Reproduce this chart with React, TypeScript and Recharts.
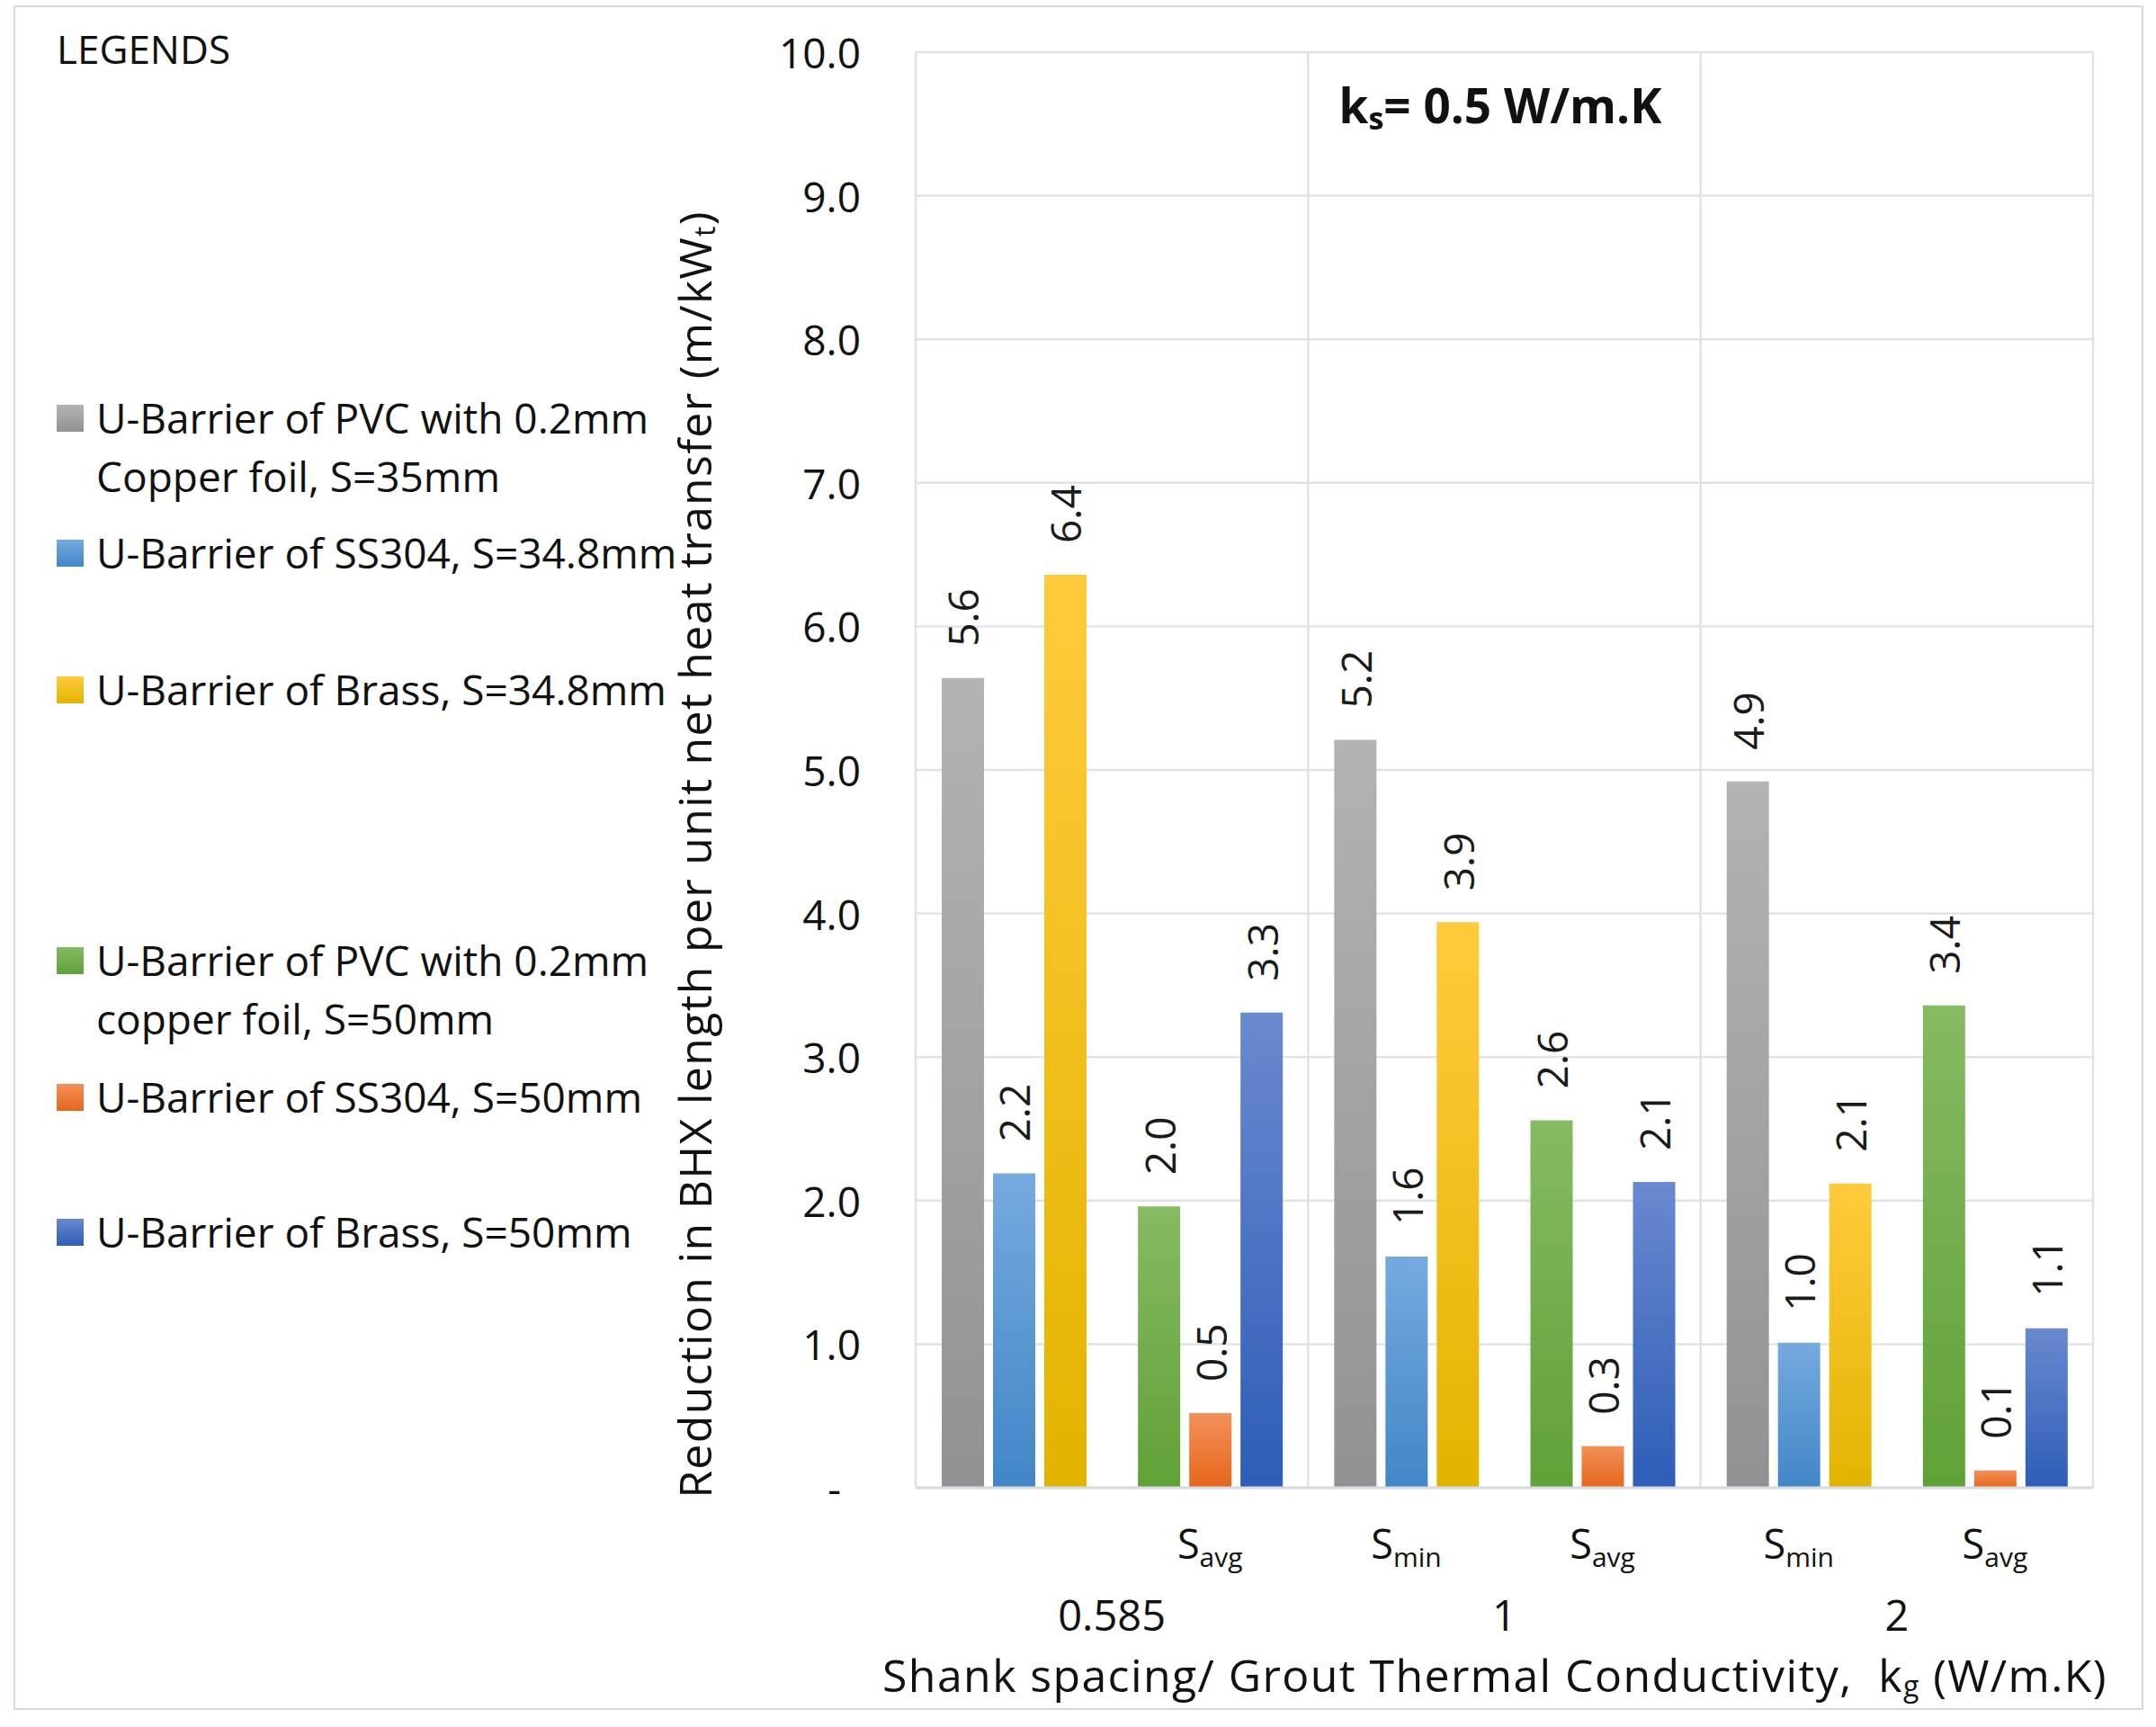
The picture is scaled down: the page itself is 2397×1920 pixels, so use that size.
import React from 'react';
import { BarChart, Bar, XAxis, YAxis, CartesianGrid, ReferenceLine, LabelList } from 'recharts';

// grout conductivity groups and the shank spacing inside each group
const groupLabels = ['0.585', '1', '2'];
const spacingSubs = ['', 'avg', 'min', 'avg', 'min', 'avg'];
const yTicks = [0, 1, 2, 3, 4, 5, 6, 7, 8, 9, 10];

// reduction in BHX length per unit net heat transfer (m/kWt)
const pvcCopper35 = [5.64, null, 5.21, null, 4.92, null];
const ss304_348 = [2.19, null, 1.61, null, 1.01, null];
const brass348 = [6.36, null, 3.94, null, 2.12, null];
const pvcCopper50 = [null, 1.96, null, 2.56, null, 3.36];
const ss304_50 = [null, 0.52, null, 0.29, null, 0.12];
const brass50 = [null, 3.31, null, 2.13, null, 1.11];

const seriesNames = [
  'U-Barrier of PVC with 0.2mm\nCopper foil, S=35mm',
  'U-Barrier of SS304, S=34.8mm',
  'U-Barrier of Brass, S=34.8mm',
  'U-Barrier of PVC with 0.2mm\ncopper foil, S=50mm',
  'U-Barrier of SS304, S=50mm',
  'U-Barrier of Brass, S=50mm',
];
const seriesValues = [pvcCopper35, ss304_348, brass348, pvcCopper50, ss304_50, brass50];

const series = [
  { key: 's0', stack: 'a', top: '#b3b3b3', bottom: '#929292' },
  { key: 's1', stack: 'b', top: '#75aadf', bottom: '#4286c7' },
  { key: 's2', stack: 'c', top: '#ffcb3c', bottom: '#e2b400' },
  { key: 's3', stack: 'a', top: '#86ba63', bottom: '#60a137' },
  { key: 's4', stack: 'b', top: '#f3905a', bottom: '#e6661c' },
  { key: 's5', stack: 'c', top: '#6a89cf', bottom: '#2d5db7' },
];

const legendTops = [465, 615, 767, 1068, 1220, 1370];

const rows = spacingSubs.map((sub, i) => {
  const row: Record<string, any> = {
    cat: `${groupLabels[Math.floor(i / 2)]}-${sub || 'x'}-${i}`,
    // position of the category on the group axis (one unit per group)
    pos: Math.floor(i / 2) + (i % 2 ? 0.75 : 0.25),
  };
  seriesValues.forEach((vals, s) => {
    row[series[s].key] = vals[i];
  });
  return row;
});

const FONT = '"Open Sans", "DejaVu Sans", sans-serif';
const GRID = '#dfe3e9';

const SpacingTick = (props: any) => {
  const { x, payload } = props;
  const sub = spacingSubs[payload.index];
  if (!sub) return null;
  return (
    <text x={x} y={1733} textAnchor="middle" fontFamily={FONT} fontSize={45} fill="#111">
      <tspan>S</tspan>
      <tspan fontSize={30} dy={9}>{sub}</tspan>
    </text>
  );
};

const GroupTick = (props: any) => {
  const { x, payload } = props;
  return (
    <text x={x} y={1795} textAnchor="middle" dominantBaseline="central" fontFamily={FONT} fontSize={47} fill="#111">
      {groupLabels[Math.floor(payload.value)]}
    </text>
  );
};

const ValueTick = (props: any) => {
  const { x, y, payload } = props;
  const v = payload.value;
  return (
    <text x={v === 0 ? x - 22 : x} y={y} textAnchor="end" dominantBaseline="central" fontFamily={FONT} fontSize={46} fill="#111">
      {v === 0 ? '-' : v.toFixed(1)}
    </text>
  );
};

const YTitle = () => (
  <text
    x={772}
    y={950}
    transform="rotate(-90 772 950)"
    textAnchor="middle"
    dominantBaseline="central"
    fontFamily={FONT}
    fontSize={50}
    letterSpacing={1.3}
    fill="#111"
  >
    Reduction in BHX length per unit net heat transfer (m/kW
    <tspan fontSize={32} dy={10}>t</tspan>
    <tspan dy={-10}>)</tspan>
  </text>
);

const XTitle = () => (
  <text
    x={1662}
    y={1862}
    textAnchor="middle"
    dominantBaseline="central"
    fontFamily={FONT}
    fontSize={50}
    letterSpacing={1.4}
    fill="#111"
  >
    {'Shank spacing/ Grout Thermal Conductivity,\u00a0 k'}
    <tspan fontSize={32} dy={11}>g</tspan>
    <tspan dy={-11}> (W/m.K)</tspan>
  </text>
);

const makeValueLabel = (props: any) => {
  const { x, y, width, value } = props;
  if (value === null || value === undefined) return null;
  const cx = x + width / 2;
  const ty = y - 35;
  return (
    <text
      x={cx}
      y={ty}
      transform={`rotate(-90 ${cx} ${ty})`}
      textAnchor="start"
      dominantBaseline="central"
      fontFamily={FONT}
      fontSize={46}
      fill="#1a1a1a"
    >
      {Number(value).toFixed(1)}
    </text>
  );
};

export default function App() {
  return (
    <div style={{ position: 'absolute', left: 0, top: 0, width: 2397, height: 1920, background: '#fff', fontFamily: FONT }}>
      <div
        style={{
          position: 'absolute',
          left: 15,
          top: 6,
          width: 2368,
          height: 1895,
          border: '2px solid #d9d9d9',
          boxSizing: 'border-box',
        }}
      />
      <BarChart
        width={2397}
        height={1920}
        data={rows}
        margin={{ top: 58, right: 70, bottom: 0, left: 0 }}
        barSize={47}
        barGap={10}
      >
        <defs>
          {series.map((s) => (
            <linearGradient key={s.key} id={`grad-${s.key}`} x1="0" y1="0" x2="0" y2="1">
              <stop offset="0%" stopColor={s.top} />
              <stop offset="100%" stopColor={s.bottom} />
            </linearGradient>
          ))}
        </defs>
        <CartesianGrid vertical={false} stroke={GRID} strokeWidth={2.5} />
        <XAxis
          dataKey="cat"
          interval={0}
          height={105}
          tickLine={false}
          axisLine={{ stroke: '#d6dbe2', strokeWidth: 3 }}
          tick={<SpacingTick />}
        />
        <XAxis
          xAxisId="grp"
          dataKey="pos"
          type="number"
          domain={[0, 3]}
          allowDataOverflow
          ticks={[0.5, 1.5, 2.5]}
          height={161}
          tickLine={false}
          axisLine={false}
          tick={<GroupTick />}
          label={<XTitle />}
        />
        <YAxis
          type="number"
          domain={[0, 10]}
          ticks={yTicks}
          width={1018}
          tickSize={0}
          tickMargin={61}
          axisLine={false}
          tickLine={false}
          tick={<ValueTick />}
          label={<YTitle />}
        />
        {[0, 1, 2, 3].map((b) => (
          <ReferenceLine key={b} xAxisId="grp" x={b} stroke={GRID} strokeWidth={2.5} />
        ))}
        {series.map((s, i) => (
          <Bar key={s.key} dataKey={s.key} stackId={s.stack} name={seriesNames[i]} fill={`url(#grad-${s.key})`} isAnimationActive={false}>
            <LabelList dataKey={s.key} content={makeValueLabel} />
          </Bar>
        ))}
      </BarChart>

      <div style={{ position: 'absolute', left: 63, top: 54, transform: 'translateY(-50%)', fontSize: 44, color: '#111' }}>
        LEGENDS
      </div>
      {series.map((s, i) => (
        <div
          key={s.key}
          style={{ position: 'absolute', left: 63, top: legendTops[i] - 33, display: 'flex', alignItems: 'flex-start' }}
        >
          <div
            style={{
              width: 30,
              height: 30,
              marginTop: 18,
              background: `linear-gradient(${s.top}, ${s.bottom})`,
            }}
          />
          <div style={{ marginLeft: 14, fontSize: 46, lineHeight: '65px', whiteSpace: 'pre', color: '#111' }}>
            {seriesNames[i]}
          </div>
        </div>
      ))}

      <div
        style={{
          position: 'absolute',
          left: 1668,
          top: 117,
          transform: 'translate(-50%, -50%)',
          fontSize: 53,
          fontWeight: 700,
          whiteSpace: 'pre',
          color: '#111',
        }}
      >
        k<sub style={{ fontSize: 34, verticalAlign: '-0.2em' }}>s</sub>= 0.5 W/m.K
      </div>
    </div>
  );
}
